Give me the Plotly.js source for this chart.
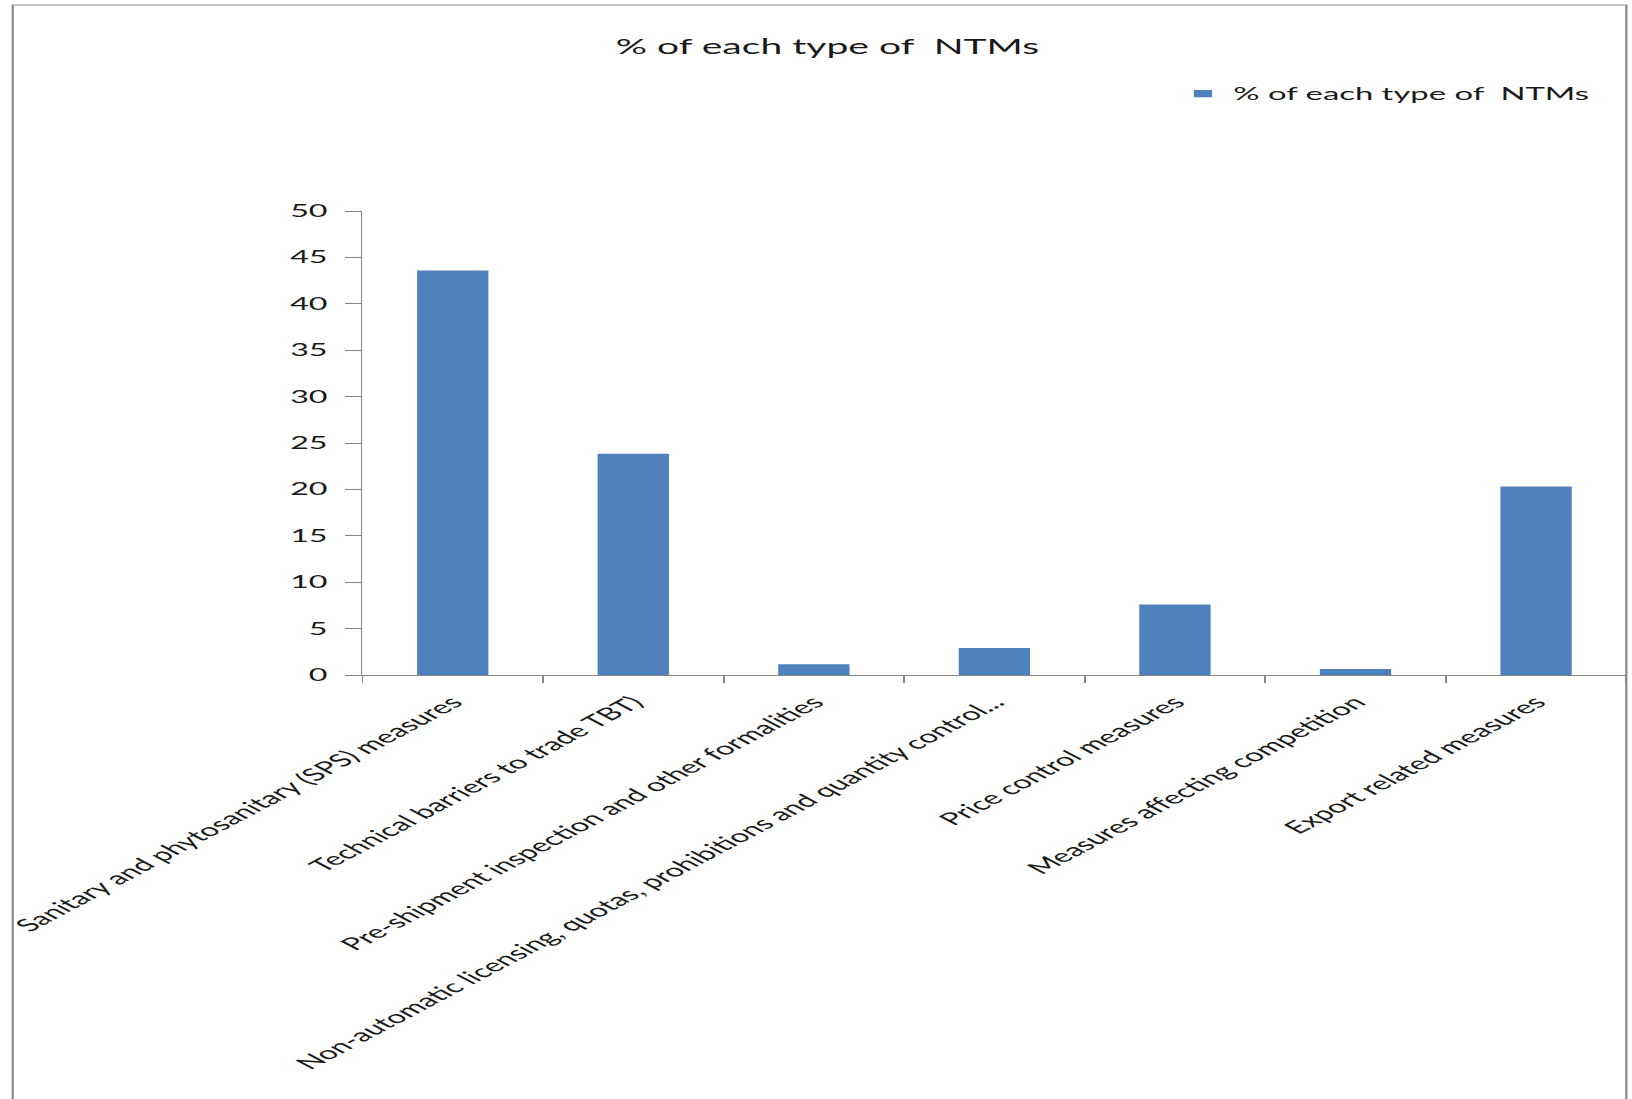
<!DOCTYPE html>
<html>
<head>
<meta charset="utf-8">
<script src="https://cdn.plot.ly/plotly-3.0.1.min.js"></script>
<style>
  html, body { margin: 0; padding: 0; background: #ffffff; overflow: hidden; }
  #wrap { position: relative; width: 1632px; height: 1099px; overflow: hidden; background: #ffffff; }
  #chart { position: absolute; left: 0; top: 0; width: 860px; height: 1099px;
           transform: scaleX(1.8977); transform-origin: 0 0; }
  #chart .legendpoints path { transform: translate(24px, 0px) scale(0.8, 0.6); }
</style>
</head>
<body>
<div id="wrap"><div id="chart"></div></div>
<script>
// ---- data ----
const categories = [
  "Sanitary and phytosanitary (SPS) measures",
  "Technical barriers to trade TBT)",
  "Pre-shipment inspection and other formalities",
  "Non-automatic licensing, quotas, prohibitions and quantity control...",
  "Price control measures",
  "Measures affecting competition",
  "Export related measures"
];
const percentValues = [43.6, 23.85, 1.15, 2.9, 7.6, 0.65, 20.3];
const seriesName = "% of each type of  NTMs";
const chartTitle = "% of each type of  NTMs";
const yTickValues = [0, 5, 10, 15, 20, 25, 30, 35, 40, 45, 50];

const FONT = "Lato, 'Open Sans', sans-serif";
const TEXT = "#1a1a1a";
const AXIS = "#868686";

const trace = {
  type: "bar",
  name: seriesName,
  x: categories,
  y: percentValues,
  marker: { color: "#4f81bd", line: { width: 0 } },
  showlegend: true,
  hoverinfo: "x+y"
};

const layout = {
  width: 860,
  height: 1099,
  margin: { l: 191, r: 3, t: 211, b: 424, pad: 0 },
  paper_bgcolor: "#ffffff",
  plot_bgcolor: "#ffffff",
  font: { family: FONT, color: TEXT, size: 17 },
  title: {
    text: chartTitle,
    font: { family: FONT, size: 20.6, color: TEXT },
    x: 0.507, xanchor: "center", xref: "container",
    y: 0.957, yanchor: "middle", yref: "container"
  },
  bargap: 0.605,
  showlegend: true,
  legend: {
    x: 0.629, xanchor: "left",
    y: 1.2525, yanchor: "middle",
    font: { family: FONT, size: 17.3, color: TEXT },
    bgcolor: "rgba(0,0,0,0)", borderwidth: 0
  },
  xaxis: {
    type: "category",
    tickson: "boundaries",
    ticks: "outside", ticklen: 7, tickwidth: 1, tickcolor: AXIS,
    tickangle: -45,
    ticklabelstandoff: 9,
    tickfont: { family: FONT, size: 17.5, color: TEXT },
    showline: true, linecolor: AXIS, linewidth: 1.2,
    showgrid: false, zeroline: false,
    automargin: false,
    fixedrange: true
  },
  yaxis: {
    range: [0, 50],
    tickmode: "array",
    tickvals: yTickValues,
    ticktext: yTickValues.map(String),
    ticks: "outside", ticklen: 8, tickwidth: 1, tickcolor: AXIS,
    ticklabelstandoff: 6,
    tickfont: { family: FONT, size: 17, color: TEXT },
    showline: true, linecolor: AXIS, linewidth: 1,
    showgrid: false, zeroline: false,
    automargin: false,
    fixedrange: true
  },
  shapes: [{
    type: "rect", xref: "paper", yref: "paper",
    x0: -0.2767, x1: 1.0, y0: -0.95, y1: 1.444,
    line: { color: "#8c8c8c", width: 1.2 },
    fillcolor: "rgba(0,0,0,0)", layer: "above"
  }]
};

Plotly.newPlot("chart", [trace], layout, { displayModeBar: false, staticPlot: true });
</script>
</body>
</html>
